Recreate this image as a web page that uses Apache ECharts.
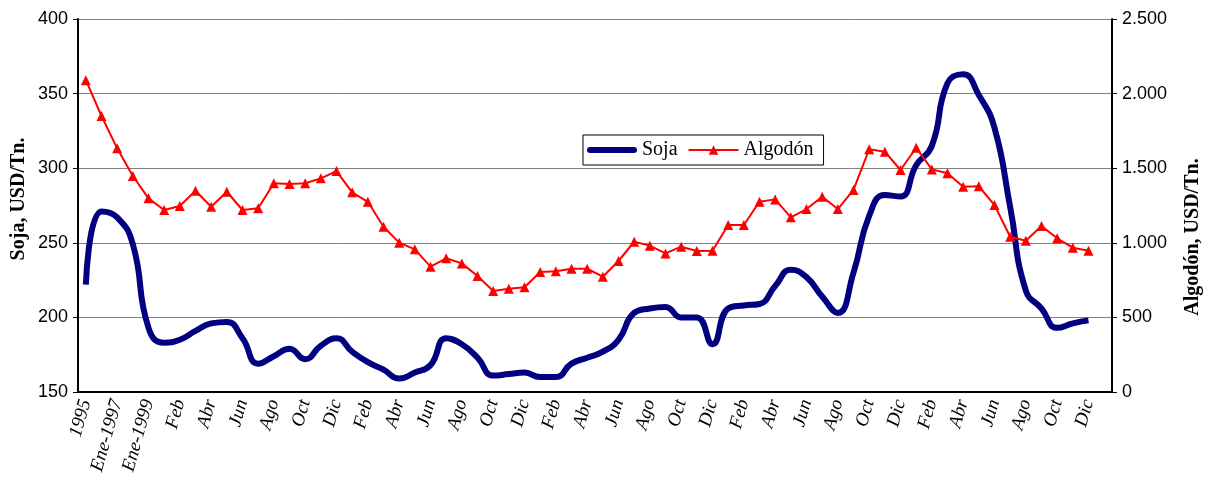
<!DOCTYPE html>
<html>
<head>
<meta charset="utf-8">
<script src="https://cdn.jsdelivr.net/npm/echarts@6/dist/echarts.min.js"></script>
<style>
  html, body { margin: 0; padding: 0; background: #fff; }
  #main { width: 1205px; height: 490px; }
</style>
</head>
<body>
<div id="main"></div>
<script>
// categorias (anuales hasta 1999, luego mensuales)
var categories = [
  '1995', '1996', 'Ene-1997', 'Ene-1998', 'Ene-1999',
  'Ene', 'Feb', 'Mar', 'Abr', 'May', 'Jun', 'Jul', 'Ago', 'Sep', 'Oct', 'Nov', 'Dic',
  'Ene', 'Feb', 'Mar', 'Abr', 'May', 'Jun', 'Jul', 'Ago', 'Sep', 'Oct', 'Nov', 'Dic',
  'Ene', 'Feb', 'Mar', 'Abr', 'May', 'Jun', 'Jul', 'Ago', 'Sep', 'Oct', 'Nov', 'Dic',
  'Ene', 'Feb', 'Mar', 'Abr', 'May', 'Jun', 'Jul', 'Ago', 'Sep', 'Oct', 'Nov', 'Dic',
  'Ene', 'Feb', 'Mar', 'Abr', 'May', 'Jun', 'Jul', 'Ago', 'Sep', 'Oct', 'Nov', 'Dic',
  'Ene'
];

// Soja, USD/Tn. (eje izquierdo)
var soja = [
  222, 271, 267, 249, 193,
  183, 185, 191, 196, 197, 186, 169, 174, 179, 172, 181, 186,
  177, 170, 165, 159, 163, 168, 186, 182, 173, 161, 162, 163,
  160, 160, 169, 173, 177, 185, 203, 206, 207, 200, 200, 182,
  206, 208, 209, 221, 232, 227, 214, 203, 230, 268, 282, 281,
  302, 315, 357, 363, 349, 327, 274, 218, 206, 193, 196, 198,
  null
];

// Algodón, USD/Tn. (eje derecho)
var algodon = [
  2090, 1850, 1633, 1448, 1298,
  1220, 1247, 1349, 1242, 1342, 1220, 1231, 1399, 1394, 1399, 1432, 1481,
  1338, 1275, 1108, 1001, 956, 840, 896, 862, 777, 677, 692, 702,
  804, 809, 826, 826, 773, 878, 1007, 981, 929, 974, 945, 947,
  1119, 1119, 1275, 1291, 1171, 1226, 1309, 1226, 1354, 1627, 1611, 1488,
  1637, 1492, 1466, 1376, 1379, 1253, 1041, 1014, 1113, 1030, 967, 947,
  null
];

var chart = echarts.init(document.getElementById('main'), null, { renderer: 'canvas' });

function miles(v) {
  return String(v).replace(/\B(?=(\d{3})+(?!\d))/g, '.');
}

var option = {
  animation: false,
  backgroundColor: '#ffffff',
  grid: {
    left: 78,
    right: 93,
    top: 19,
    bottom: 98
  },
  legend: {
    left: 583,
    top: 135,
    backgroundColor: '#ffffff',
    borderColor: '#000000',
    borderWidth: 1,
    borderRadius: 0,
    padding: [5, 10, 5, 4],
    itemWidth: 50,
    itemHeight: 12,
    itemGap: 10,
    textStyle: {
      fontFamily: 'Liberation Serif',
      fontSize: 20,
      color: '#000'
    },
    data: [{
      name: 'Soja',
      icon: 'path://M3,0 L47,0 A3,3 0 0 1 47,6 L3,6 A3,3 0 0 1 3,0 Z',
      itemStyle: { color: '#000080' }
    }, {
      name: 'Algodón'
    }]
  },
  graphic: [{
    type: 'text',
    x: 19,
    y: 199,
    rotation: Math.PI / 2,
    style: {
      text: 'Soja, USD/Tn.',
      font: 'bold 20px "Liberation Serif"',
      fill: '#000',
      align: 'center',
      verticalAlign: 'middle'
    }
  }, {
    type: 'text',
    x: 1193,
    y: 237,
    rotation: Math.PI / 2,
    style: {
      text: 'Algodón, USD/Tn.',
      font: 'bold 20px "Liberation Serif"',
      fill: '#000',
      align: 'center',
      verticalAlign: 'middle'
    }
  }],
  xAxis: {
    type: 'category',
    boundaryGap: true,
    data: categories,
    axisLine: {
      onZero: false,
      lineStyle: { color: '#000', width: 2 }
    },
    axisTick: {
      interval: 0,
      length: 5,
      lineStyle: { color: '#000', width: 1 }
    },
    axisLabel: {
      interval: 1,
      rotate: 74,
      margin: 8,
      fontFamily: 'Liberation Serif',
      fontStyle: 'italic',
      fontSize: 19,
      color: '#000'
    },
    splitLine: { show: false }
  },
  yAxis: [{
    type: 'value',
    min: 150,
    max: 400,
    interval: 50,
    axisLine: {
      show: true,
      lineStyle: { color: '#000', width: 2 }
    },
    axisTick: {
      show: true,
      length: 5,
      lineStyle: { color: '#000' }
    },
    axisLabel: {
      margin: 10,
      fontFamily: 'Liberation Sans',
      fontSize: 18,
      color: '#000'
    },
    splitLine: {
      show: true,
      lineStyle: { color: '#808080', width: 1 }
    }
  }, {
    type: 'value',
    min: 0,
    max: 2500,
    interval: 500,
    position: 'right',
    axisLine: {
      show: true,
      lineStyle: { color: '#000', width: 2 }
    },
    axisTick: {
      show: true,
      length: 5,
      lineStyle: { color: '#000' }
    },
    axisLabel: {
      margin: 10,
      fontFamily: 'Liberation Sans',
      fontSize: 18,
      color: '#000',
      formatter: miles
    },
    splitLine: { show: false }
  }],
  series: [{
    name: 'Soja',
    type: 'line',
    yAxisIndex: 0,
    data: soja,
    smooth: 0.5,
    symbol: 'none',
    lineStyle: { color: '#000080', width: 6 },
    itemStyle: { color: '#000080' },
    z: 2
  }, {
    name: 'Algodón',
    type: 'line',
    yAxisIndex: 1,
    data: algodon,
    symbol: 'triangle',
    symbolSize: 10,
    lineStyle: { color: '#ff0000', width: 2 },
    itemStyle: { color: '#ff0000' },
    z: 3
  }]
};

chart.setOption(option);
</script>
</body>
</html>
